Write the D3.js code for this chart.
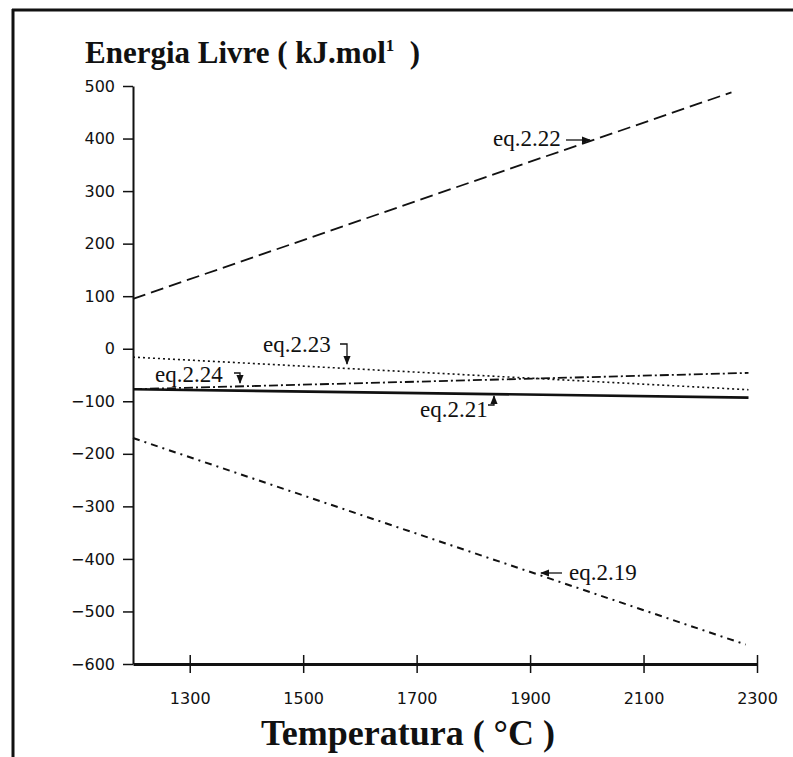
<!DOCTYPE html>
<html>
<head>
<meta charset="utf-8">
<script src="https://cdn.jsdelivr.net/npm/d3@7"></script>
<style>
  body { margin: 0; background: #fff; }
  svg { display: block; }
  .tick text { font-family: "DejaVu Sans", sans-serif; font-size: 16px; fill: #111; }
  .ann { font-family: "Liberation Serif", serif; font-size: 23px; fill: #111; }
</style>
</head>
<body>
<svg id="chart" width="793" height="757"></svg>
<script>
// temperaturas (°C) e energia livre (kJ/mol)
var temps22 = [1200, 2255], eq22 = [95, 488];
var temps19 = [1200, 2280], eq19 = [-170, -563];
var temps21 = [1200, 2285], eq21 = [-77, -93];
var temps23 = [1200, 2285], eq23 = [-16, -78];
var temps24 = [1200, 2285], eq24 = [-77, -46];
var xTicks = [1300, 1500, 1700, 1900, 2100, 2300];
var yTicks = [-600, -500, -400, -300, -200, -100, 0, 100, 200, 300, 400, 500];

var svg = d3.select('#chart');
var x = d3.scaleLinear().domain([1200, 2300]).range([133, 757]);
var y = d3.scaleLinear().domain([-600, 500]).range([664, 86]);

// moldura (só topo e esquerda aparecem)
svg.append('line').attr('x1', 12).attr('x2', 793).attr('y1', 10).attr('y2', 10)
  .attr('stroke', '#111').attr('stroke-width', 3);
svg.append('line').attr('x1', 13).attr('x2', 13).attr('y1', 9).attr('y2', 757)
  .attr('stroke', '#111').attr('stroke-width', 3);

// eixo y
var gy = svg.append('g').attr('transform', 'translate(133,0)')
  .call(d3.axisLeft(y).tickValues(yTicks).tickSize(10).tickSizeOuter(0).tickPadding(8));
gy.select('.domain').attr('stroke', '#111').attr('stroke-width', 2);
gy.selectAll('.tick line').attr('stroke', '#111').attr('stroke-width', 1.5);

// eixo x (marcas cruzando a linha)
var gx = svg.append('g').attr('transform', 'translate(0,664)')
  .call(d3.axisBottom(x).tickValues(xTicks).tickSize(9).tickSizeOuter(0).tickPadding(20)
    .tickFormat(d3.format('d')));
gx.select('.domain').attr('stroke', '#111').attr('stroke-width', 3);
gx.selectAll('.tick line').attr('y1', -9).attr('stroke', '#111').attr('stroke-width', 1.5);

// curvas
function pts(t, v) { return t.map(function(d, i) { return [d, v[i]]; }); }
var line = d3.line().x(function(d) { return x(d[0]); }).y(function(d) { return y(d[1]); });
var series = [
  { data: pts(temps22, eq22), dash: '13,6', w: 1.8 },
  { data: pts(temps19, eq19), dash: '7,5,2,5', w: 2 },
  { data: pts(temps21, eq21), dash: null, w: 2.6 },
  { data: pts(temps23, eq23), dash: '2,3', w: 1.6 },
  { data: pts(temps24, eq24), dash: '9,3,2,3', w: 1.8 }
];
series.forEach(function(s) {
  svg.append('path').attr('d', line(s.data)).attr('fill', 'none')
    .attr('stroke', '#111').attr('stroke-width', s.w)
    .attr('stroke-dasharray', s.dash);
});

// títulos
var t1 = svg.append('text').attr('x', 85).attr('y', 63)
  .style('font-family', '"Liberation Serif", serif').style('font-weight', 'bold')
  .style('font-size', '31px').attr('fill', '#111');
t1.append('tspan').text('Energia Livre ( kJ.mol');
t1.append('tspan').attr('dy', -12).style('font-size', '17px').text('1');
t1.append('tspan').attr('dy', 12).text('  )').attr('xml:space', 'preserve');

svg.append('text').attr('x', 408).attr('y', 745).attr('text-anchor', 'middle')
  .style('font-family', '"Liberation Serif", serif').style('font-weight', 'bold')
  .style('font-size', '36px').attr('fill', '#111')
  .text('Temperatura ( °C )');

// anotações
svg.append('defs').append('marker').attr('id', 'ah').attr('viewBox', '0 0 10 10')
  .attr('refX', 9).attr('refY', 5).attr('markerWidth', 7).attr('markerHeight', 7)
  .attr('orient', 'auto-start-reverse')
  .append('path').attr('d', 'M0,1 L10,5 L0,9 Z').attr('fill', '#111');

var anns = [
  { text: 'eq.2.22', x: 493, y: 146, arrow: [[566, 140], [590, 140]] },
  { text: 'eq.2.23', x: 263, y: 352, arrow: [[340, 344], [347, 344], [347, 364]] },
  { text: 'eq.2.24', x: 155, y: 382, arrow: [[234, 373], [240, 373], [240, 383]] },
  { text: 'eq.2.21', x: 420, y: 417, arrow: [[488, 405], [494, 405], [494, 396]] },
  { text: 'eq.2.19', x: 569, y: 580, arrow: [[562, 573], [541, 573]] }
];
anns.forEach(function(a) {
  svg.append('text').attr('class', 'ann').attr('x', a.x).attr('y', a.y).text(a.text);
  svg.append('path').attr('d', d3.line()(a.arrow)).attr('fill', 'none')
    .attr('stroke', '#111').attr('stroke-width', 1.3).attr('marker-end', 'url(#ah)');
});
</script>
</body>
</html>
